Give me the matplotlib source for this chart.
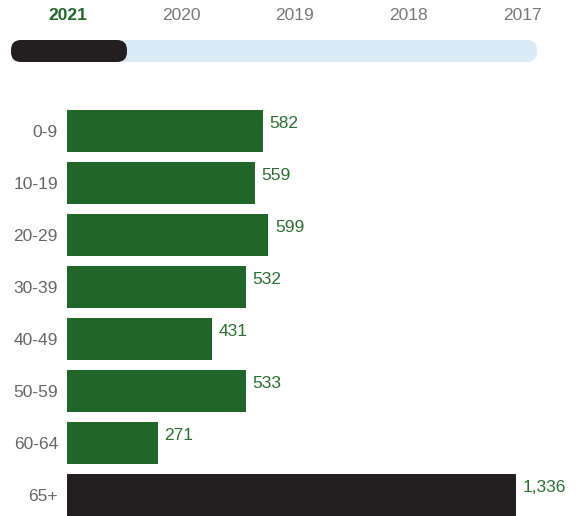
import matplotlib
matplotlib.use("Agg")
import matplotlib.pyplot as plt
from matplotlib.patches import FancyBboxPatch

plt.rcParams['font.family'] = ['Liberation Sans', 'DejaVu Sans']

years = ["2021", "2020", "2019", "2018", "2017"]
selected_year = "2021"
categories = ["0-9", "10-19", "20-29", "30-39", "40-49", "50-59", "60-64", "65+"]
values = [582, 559, 599, 532, 431, 533, 271, 1336]
highlight = "65+"

GREEN = "#216629"
DARK = "#231f20"
LABEL_GREEN = "#2b6e31"
GRAY = "#666666"
YEAR_GRAY = "#777777"
TRACK = "#daebf5"

W, H = 579, 516
fig = plt.figure(figsize=(W / 100, H / 100), dpi=100)

# Bar axes in pixel placement
ax_left, ax_right = 67, 516
ax_top, ax_bottom = 105, 521
ax = fig.add_axes([ax_left / W, (H - ax_bottom) / H, (ax_right - ax_left) / W, (ax_bottom - ax_top) / H])
ypos = list(range(len(categories)))
colors = [DARK if c == highlight else GREEN for c in categories]
ax.barh(ypos, values, height=42 / 52, color=colors)
ax.set_xlim(0, max(values))
ax.set_ylim(len(categories) - 0.5, -0.5)
ax.set_yticks(ypos)
ax.set_yticklabels(categories, fontsize=12.5, color=GRAY)
ax.tick_params(axis='y', length=0, pad=6.5)
ax.set_xticks([])
for s in ax.spines.values():
    s.set_visible(False)
units_per_px = max(values) / (ax_right - ax_left)
for y, v in zip(ypos, values):
    ax.text(v + 6.5 * units_per_px, y - 7 / 52, f"{v:,}", va='center', ha='left',
            fontsize=12.5, color=LABEL_GREEN, clip_on=False)

# Year slider overlay
ov = fig.add_axes([0, 0, 1, 1])
ov.set_xlim(0, W)
ov.set_ylim(H, 0)
ov.axis('off')
ov.patch.set_alpha(0)
year_x = [68, 181.5, 295, 408.5, 522]
for yr, x in zip(years, year_x):
    sel = yr == selected_year
    ov.text(x, 15, yr, ha='center', va='center', fontsize=12.5,
            color=GREEN if sel else YEAR_GRAY, fontweight='bold' if sel else 'normal')
track = FancyBboxPatch((11 + 11, 40), 537 - 11 - 22, 22, boxstyle="round,pad=0,rounding_size=11",
                       mutation_aspect=1, fc=TRACK, ec='none')
track = FancyBboxPatch((11, 40), 537 - 11, 22, boxstyle="round,pad=0,rounding_size=10",
                       fc=TRACK, ec='none')
ov.add_patch(track)
knob = FancyBboxPatch((11, 40), 127 - 11, 22, boxstyle="round,pad=0,rounding_size=10",
                      fc=DARK, ec='none')
ov.add_patch(knob)

fig.savefig("out.png", dpi=100)
